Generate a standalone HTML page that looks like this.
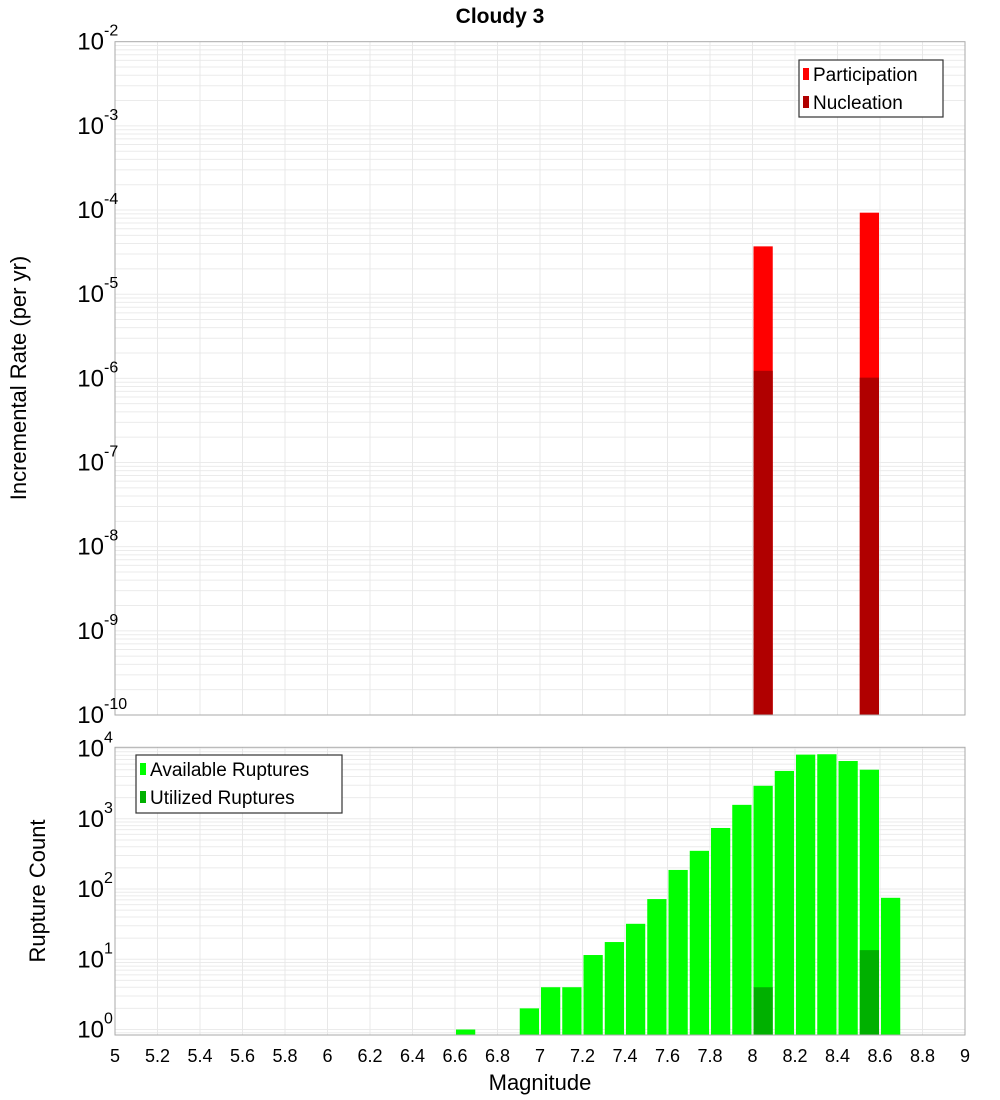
<!DOCTYPE html>
<html><head><meta charset="utf-8"><style>
html,body{margin:0;padding:0;background:#fff;}
svg{display:block;font-family:"Liberation Sans","DejaVu Sans",sans-serif;}
</style></head><body>
<svg id="c" width="1000" height="1100" xmlns="http://www.w3.org/2000/svg">
<text x="500" y="23" text-anchor="middle" font-size="21" font-weight="bold">Cloudy 3</text>
<g id="top"></g>
<g id="bot"></g>
<text x="540" y="1090" text-anchor="middle" font-size="22">Magnitude</text>
<text transform="translate(26,378) rotate(-90)" text-anchor="middle" font-size="22">Incremental Rate (per yr)</text>
<text transform="translate(45,891) rotate(-90)" text-anchor="middle" font-size="22">Rupture Count</text>
</svg>
<script>
const xTicks=[5,5.2,5.4,5.6,5.8,6,6.2,6.4,6.6,6.8,7,7.2,7.4,7.6,7.8,8,8.2,8.4,8.6,8.8,9];
const partMags=[8.0,8.5];
const partRates=[3.7e-5,9.3e-5];
const nuclMags=[8.0,8.5];
const nuclRates=[1.23e-6,1.02e-6];
const availMags=[6.6,6.9,7.0,7.1,7.2,7.3,7.4,7.5,7.6,7.7,7.8,7.9,8.0,8.1,8.2,8.3,8.4,8.5,8.6];
const availCounts=[1,2,4,4,11.5,17.6,32,72,187,350,740,1580,2950,4800,8200,8300,6650,5000,75];
const utilMags=[8.0,8.5];
const utilCounts=[4,13.5];
const topExps=[-2,-3,-4,-5,-6,-7,-8,-9,-10];
const botExps=[4,3,2,1,0];

const NS="http://www.w3.org/2000/svg";
const svg=document.getElementById('c');
function el(p,t,a){const e=document.createElementNS(NS,t);for(const k in a)e.setAttribute(k,a[k]);p.appendChild(e);return e;}
const X0=115,X1=965,XMIN=5,XMAX=9;
const xs=v=>X0+(v-XMIN)/(XMAX-XMIN)*(X1-X0);
const BW=0.1;
// top panel
const T={top:41.7,bot:715,lmax:-2,lmin:-10};
const yT=v=>T.top+(T.lmax-Math.log10(v))/(T.lmax-T.lmin)*(T.bot-T.top);
const B={top:747.3,bot:1035,lmax:4.018,lmin:-0.078};
const yB=v=>B.top+(B.lmax-Math.log10(v))/(B.lmax-B.lmin)*(B.bot-B.top);

function grid(g,P,yf){
  for(let e=Math.floor(P.lmin);e<Math.ceil(P.lmax);e++){
    for(let m=1;m<10;m++){const v=m*Math.pow(10,e);const lv=Math.log10(v);if(lv<P.lmin||lv>P.lmax)continue;
      const y=yf(v);
      const l=el(g,'line',{x1:X0,x2:X1,y1:y,y2:y,stroke:'#ebebeb','stroke-width':1});
      
      
    }
  }
  xTicks.forEach(t=>{const x=xs(t);
    const l=el(g,'line',{x1:x,x2:x,y1:P.top,y2:P.bot,stroke:'#e8e8e8','stroke-width':1});
    
    
  });
}
function frame(g,P){
  const r=el(g,'rect',{x:X0,y:P.top,width:X1-X0,height:P.bot-P.top,fill:'none',stroke:'#aaa','stroke-width':1});
  
  
}
function ylab(g,exps,yf){
  exps.forEach(e=>{const y=yf(Math.pow(10,e));
    const t=el(g,'text',{x:104,y:y+8,'text-anchor':'end','font-size':24});
    
    
    t.textContent='10';
    const s=el(g,'text',{x:104,y:y-6,'font-size':16});
    
    
    s.textContent=String(e);
  });
}
function bars(g,mags,vals,yf,P,col,name){
  mags.forEach((m,i)=>{const x=xs(m)+1,w=xs(m+BW)-xs(m)-2,y=yf(vals[i]);
    const r=el(g,'rect',{x:x,y:y,width:w,height:P.bot-y,fill:col});
    
    
  });
}
function legend(g,x,y,w,h,items){
  const r=el(g,'rect',{x:x,y:y,width:w,height:h,fill:'#fff',stroke:'#333','stroke-width':1.2});
  
  
  items.forEach((it,i)=>{const cy=y+14+i*28;
    const s=el(g,'rect',{x:x+4,y:cy-6,width:6,height:12,fill:it[1]});
    
    
    const t=el(g,'text',{x:x+14,y:cy+7,'font-size':19});
    
    
    t.textContent=it[0];
  });
}
const gt=document.getElementById('top'),gb=document.getElementById('bot');
grid(gt,T,yT);grid(gb,B,yB);
bars(gt,partMags,partRates,yT,T,'#ff0000','participation-bar');
bars(gt,nuclMags,nuclRates,yT,T,'#b00000','nucleation-bar');
bars(gb,availMags,availCounts,yB,B,'#00ff00','available-bar');
bars(gb,utilMags,utilCounts,yB,B,'#00b000','utilized-bar');
frame(gt,T);frame(gb,B);
ylab(gt,topExps,yT);ylab(gb,botExps,yB);
xTicks.forEach(t=>{const tx=el(gb,'text',{x:xs(t),y:1062,'text-anchor':'middle','font-size':18});
  
  
  tx.textContent=String(t);
});
legend(gt,799,60,144,57,[['Participation','#ff0000'],['Nucleation','#b00000']]);
legend(gb,136,755,206,58,[['Available Ruptures','#00ff00'],['Utilized Ruptures','#00b000']]);
</script>
</body></html>
